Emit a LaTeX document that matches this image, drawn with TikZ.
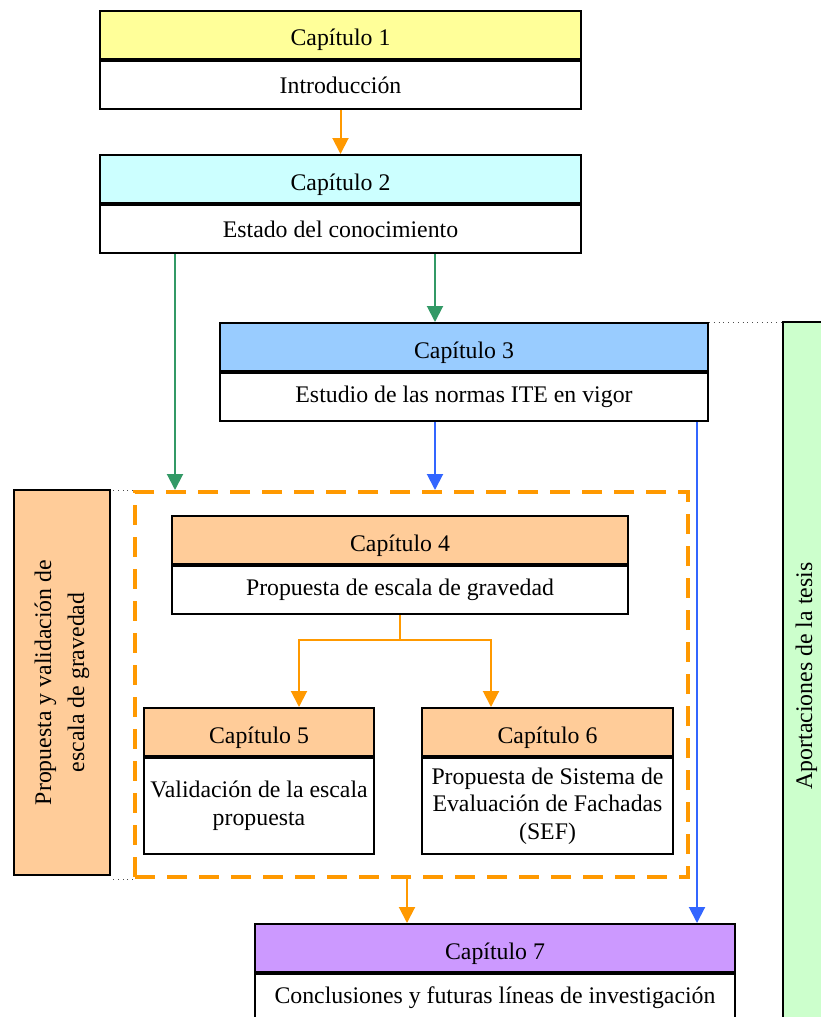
\documentclass[tikz,border=0pt]{standalone}
\usepackage{fontspec}
\setmainfont{Liberation Serif}
\usetikzlibrary{arrows.meta, positioning}

\definecolor{amarillo}{HTML}{FFFF99}
\definecolor{celeste}{HTML}{CCFFFF}
\definecolor{azulclaro}{HTML}{99CCFF}
\definecolor{salmon}{HTML}{FFCC99}
\definecolor{lila}{HTML}{CC99FF}
\definecolor{verdeclaro}{HTML}{CCFFCC}
\definecolor{naranjaF}{HTML}{FF9900}
\definecolor{verdeF}{HTML}{339966}
\definecolor{azulF}{HTML}{3366FF}

\tikzset{
  cabecera/.style={draw, line width=1pt, anchor=north west, inner sep=0pt, minimum height=24pt,
    text height=11pt, text depth=0pt},
  cuerpo/.style={draw, fill=white, line width=1pt, anchor=north west, inner sep=0pt,
    minimum height=24pt, align=center},
  flecha/.style={line width=1pt, -{Triangle[width=8pt,length=8pt]}},
  punteado/.style={line width=0.4pt, dotted, black!70},
  every node/.style={font=\fontsize{11.9}{13.8}\selectfont},
}

\begin{document}
\begin{tikzpicture}[x=0.5pt, y=-0.5pt]
  \useasboundingbox (0,0) rectangle (820,1017);

  % ejes de las flechas
  \coordinate (ejeA) at (435,0);
  \coordinate (ejeB) at (175,0);
  \coordinate (ejeC) at (697,0);
  \coordinate (ejeD) at (299,0);
  \coordinate (ejeE) at (491,0);
  \coordinate (ejeF) at (407,0);

  % Bloques laterales
  \node[draw, line width=1pt, fill=verdeclaro, rotate=90, minimum width=354pt,
    minimum height=23.5pt, inner sep=0pt] (aport) at (806.5,676) {Aportaciones de la tesis};
  \node[draw, line width=1pt, fill=salmon, rotate=90, minimum width=192.5pt,
    minimum height=48pt, inner sep=0pt, align=center,
    font=\fontsize{11.9}{16.5}\selectfont] (izq) at (62,682.5)
    {Propuesta y validación de\\escala de gravedad};

  % Marco discontinuo
  \node[draw=naranjaF, line width=2pt, dash pattern=on 10pt off 6pt, anchor=north west,
    minimum width=276.5pt, minimum height=192.5pt, inner sep=0pt] (marco) at (133,490) {};

  % Capitulo 1
  \node[cabecera, fill=amarillo, minimum width=240.5pt] (c1h) at (99,10) {Capítulo 1};
  \node[cuerpo, minimum width=240.5pt] (c1b) at (c1h.south west) {Introducción};

  % Capitulo 2
  \node[cabecera, fill=celeste, minimum width=240.5pt] (c2h) at (99,154) {Capítulo 2};
  \node[cuerpo, minimum width=240.5pt] (c2b) at (c2h.south west) {Estado del conocimiento};

  % Capitulo 3
  \node[cabecera, fill=azulclaro, minimum width=244pt] (c3h) at (219,322) {Capítulo 3};
  \node[cuerpo, minimum width=244pt] (c3b) at (c3h.south west) {Estudio de las normas ITE en vigor};

  % Capitulo 4
  \node[cabecera, fill=salmon, minimum width=228pt] (c4h) at (171,515) {Capítulo 4};
  \node[cuerpo, minimum width=228pt] (c4b) at (c4h.south west) {Propuesta de escala de gravedad};

  % Capitulo 5
  \node[cabecera, fill=salmon, minimum width=115pt] (c5h) at (143,707) {Capítulo 5};
  \node[cuerpo, minimum width=115pt, minimum height=48pt] (c5b) at (c5h.south west)
    {Validación de la escala\\propuesta};

  % Capitulo 6
  \node[cabecera, fill=salmon, minimum width=125.5pt] (c6h) at (421,707) {Capítulo 6};
  \node[cuerpo, minimum width=125.5pt, minimum height=48pt] (c6b) at (c6h.south west)
    {Propuesta de Sistema de\\Evaluación de Fachadas\\(SEF)};

  % Capitulo 7
  \node[cabecera, fill=lila, minimum width=240pt] (c7h) at (254,923) {Capítulo 7};
  \node[cuerpo, minimum width=240pt] (c7b) at (c7h.south west)
    {Conclusiones y futuras líneas de investigación};

  % Lineas punteadas
  \draw[punteado] (c3h.north east) -- (c3h.north east -| aport.north);
  \draw[punteado] (marco.north west) -- (marco.north west -| izq.south);
  \draw[punteado] (marco.south west) -- (marco.south west -| izq.south);

  % Flechas
  \draw[flecha, naranjaF] (c1b.south) -- (c2h.north);
  \draw[flecha, verdeF] (c2b.south -| ejeA) -- (c3h.north -| ejeA);
  \draw[flecha, verdeF] (c2b.south -| ejeB) -- (marco.north -| ejeB);
  \draw[flecha, azulF] (c3b.south -| ejeA) -- (marco.north -| ejeA);
  \draw[flecha, azulF] (c3b.south -| ejeC) -- (c7h.north -| ejeC);
  \draw[line width=1pt, naranjaF] (c4b.south) -- ++(0,25) coordinate (rama);
  \draw[flecha, naranjaF] (rama) -| (c5h.north -| ejeD);
  \draw[flecha, naranjaF] (rama) -| (c6h.north -| ejeE);
  \draw[flecha, naranjaF] (marco.south -| ejeF) -- (c7h.north -| ejeF);
\end{tikzpicture}
\end{document}
